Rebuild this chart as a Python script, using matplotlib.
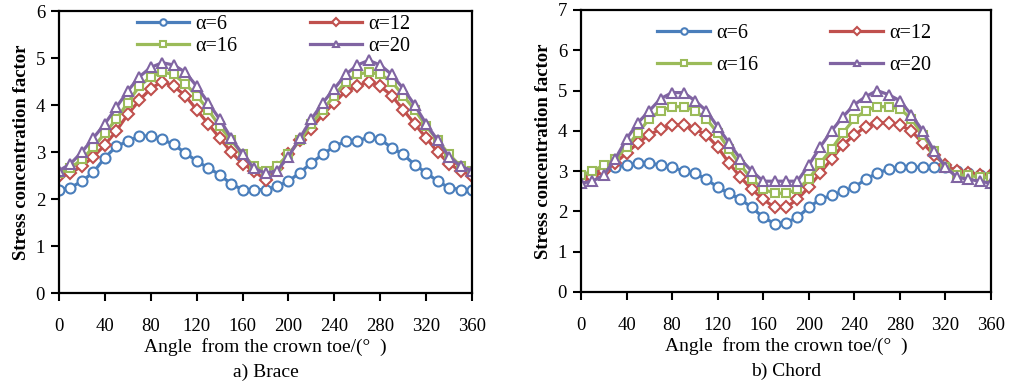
import numpy as np
import matplotlib
matplotlib.use('Agg')
import matplotlib.pyplot as plt

matplotlib.rcParams['font.family'] = ['Liberation Serif', 'DejaVu Serif']

# angle from crown toe, every 10 degrees
angle = np.arange(0, 361, 10)
series_labels = ['α=6', 'α=12', 'α=16', 'α=20']

# a) Brace
brace_a6 = [2.2, 2.24, 2.38, 2.57, 2.88, 3.12, 3.23, 3.34, 3.34, 3.27, 3.16, 2.98, 2.81, 2.66, 2.52, 2.32, 2.2, 2.2, 2.2,
            2.27, 2.38, 2.56, 2.77, 2.95, 3.12, 3.23, 3.23, 3.32, 3.27, 3.09, 2.95, 2.73, 2.56, 2.38, 2.24, 2.2, 2.2]
brace_a12 = [2.5, 2.55, 2.7, 2.9, 3.15, 3.45, 3.8, 4.1, 4.35, 4.5, 4.4, 4.2, 3.9, 3.6, 3.3, 3.0, 2.75, 2.6, 2.4,
             2.65, 2.95, 3.25, 3.5, 3.8, 4.05, 4.3, 4.4, 4.5, 4.4, 4.2, 3.9, 3.6, 3.3, 3.0, 2.75, 2.6, 2.5]
brace_a16 = [2.55, 2.65, 2.85, 3.1, 3.4, 3.7, 4.05, 4.4, 4.6, 4.7, 4.65, 4.45, 4.2, 3.9, 3.55, 3.25, 2.95, 2.7, 2.6,
             2.7, 2.95, 3.25, 3.6, 3.9, 4.2, 4.5, 4.65, 4.7, 4.65, 4.5, 4.2, 3.9, 3.55, 3.25, 2.95, 2.7, 2.6]
brace_a20 = [2.6, 2.75, 3.0, 3.3, 3.6, 3.95, 4.3, 4.6, 4.8, 4.9, 4.85, 4.7, 4.4, 4.05, 3.7, 3.3, 2.95, 2.65, 2.55,
             2.6, 2.9, 3.3, 3.7, 4.05, 4.35, 4.65, 4.85, 4.95, 4.85, 4.65, 4.35, 4.0, 3.6, 3.25, 2.9, 2.7, 2.6]

# b) Chord
chord_a6 = [2.85, 2.95, 3.05, 3.1, 3.15, 3.2, 3.2, 3.15, 3.1, 3.0, 2.95, 2.8, 2.6, 2.45, 2.3, 2.1, 1.85, 1.7, 1.72,
            1.85, 2.1, 2.3, 2.4, 2.5, 2.6, 2.8, 2.95, 3.05, 3.1, 3.1, 3.1, 3.1, 3.1, 3.0, 2.95, 2.9, 2.85]
chord_a12 = [2.75, 2.85, 3.0, 3.2, 3.45, 3.7, 3.9, 4.05, 4.15, 4.15, 4.05, 3.9, 3.6, 3.2, 2.85, 2.55, 2.3, 2.1, 2.1,
             2.3, 2.6, 2.95, 3.3, 3.65, 3.9, 4.1, 4.2, 4.2, 4.15, 4.0, 3.7, 3.4, 3.15, 3.0, 2.95, 2.9, 2.9]
chord_a16 = [2.9, 3.0, 3.15, 3.3, 3.6, 3.95, 4.3, 4.5, 4.6, 4.6, 4.5, 4.3, 3.95, 3.55, 3.15, 2.8, 2.55, 2.45, 2.45,
             2.55, 2.8, 3.2, 3.55, 3.95, 4.3, 4.5, 4.6, 4.6, 4.55, 4.3, 3.9, 3.5, 3.1, 2.9, 2.9, 2.85, 2.85]
chord_a20 = [2.7, 2.75, 2.9, 3.3, 3.8, 4.2, 4.5, 4.8, 4.95, 4.95, 4.75, 4.5, 4.1, 3.7, 3.3, 3.0, 2.75, 2.75, 2.75,
             2.75, 3.15, 3.6, 4.0, 4.35, 4.65, 4.85, 5.0, 4.9, 4.75, 4.4, 4.0, 3.5, 3.1, 2.85, 2.8, 2.75, 2.7]

colors = ['#4A7EBB', '#C0504D', '#9BBB59', '#8064A2']
markers = ['o', 'D', 's', '^']
msizes = [7.2, 6.2, 6.2, 7.2]

W, H = 1019, 387
fig = plt.figure(figsize=(W / 100, H / 100), dpi=100)


def px_axes(left, top, right, bottom):
    return fig.add_axes([left / W, 1 - bottom / H, (right - left) / W, (bottom - top) / H])


def plot_panel(ax, data, ymax, caption, leg_y, leg_sp):
    lines = []
    for vals, c, m, ms, lab in zip(data, colors, markers, msizes, series_labels):
        ln, = ax.plot(angle, vals, color=c, lw=2.3, marker=m, ms=ms, mfc='white', mec=c, mew=1.5, label=lab)
        lines.append(ln)
    ax.set_xlim(0, 360)
    ax.set_ylim(0, ymax)
    ax.set_xticks(np.arange(0, 361, 40))
    ax.set_yticks(np.arange(0, ymax + 1, 1))
    ax.tick_params(direction='out', length=6, width=1.5, labelsize=13.5, pad=4)
    ax.tick_params(axis='x', pad=12)
    for s in ax.spines.values():
        s.set_linewidth(1.6)
    ax.set_ylabel('Stress concentration factor', fontsize=13.5, fontweight='bold', labelpad=4)
    ax.set_xlabel('Angle  from the crown toe/(°  )', fontsize=14, labelpad=2)
    # row-wise legend order: 6, 12 / 16, 20
    order = [0, 2, 1, 3]
    ax.legend([lines[i] for i in order], [series_labels[i] for i in order],
              ncol=2, frameon=False, fontsize=14.5, loc='upper center', bbox_to_anchor=(0.52, leg_y),
              handlelength=2.6, handletextpad=0.3, columnspacing=3.6, labelspacing=leg_sp,
              borderaxespad=0, markerscale=0.65)
    ax.text(0.5, -0.25, caption, transform=ax.transAxes, ha='center', va='top', fontsize=14)


ax1 = px_axes(59, 11, 472, 293)
plot_panel(ax1, [brace_a6, brace_a12, brace_a16, brace_a20], 6, 'a) Brace', 1.015, 0.15)

ax2 = px_axes(581, 10, 991, 292)
plot_panel(ax2, [chord_a6, chord_a12, chord_a16, chord_a20], 7, 'b) Chord', 0.98, 0.65)

fig.savefig('out.png', dpi=100)
